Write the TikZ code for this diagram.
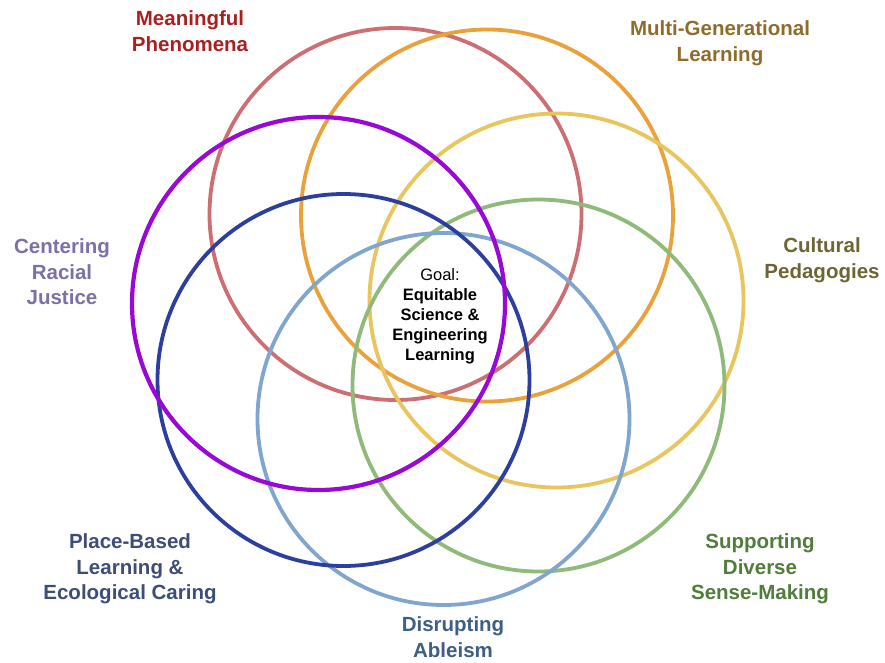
\documentclass[tikz,border=0pt]{standalone}
\usepackage{fontspec}
\setmainfont{Liberation Sans}
\definecolor{cred}{HTML}{CC6E72}
\definecolor{corange}{HTML}{E9A23B}
\definecolor{cyellow}{HTML}{E8C55E}
\definecolor{cgreen}{HTML}{8FBA7A}
\definecolor{clblue}{HTML}{80A6CF}
\definecolor{cdblue}{HTML}{2C3F9E}
\definecolor{cpurple}{HTML}{9A08D8}
\definecolor{tred}{HTML}{A82020}
\definecolor{torange}{HTML}{8E6C2C}
\definecolor{tyellow}{HTML}{6E6534}
\definecolor{tgreen}{HTML}{4F7D3B}
\definecolor{tlblue}{HTML}{3E5F84}
\definecolor{tdblue}{HTML}{3D4E76}
\definecolor{tpurple}{HTML}{7D70A6}
\tikzset{
  ring/.style={line width=3.8pt},
  lbl/.style={align=center, font=\fontsize{20.5}{25.5}\selectfont\bfseries, inner sep=0pt},
  goal/.style={align=center, font=\fontsize{16.5}{20}\selectfont, inner sep=0pt}
}
\begin{document}
\begin{tikzpicture}[x=1pt,y=-1pt]
\useasboundingbox (0,0) rectangle (885,663);
\fill[white] (0,0) rectangle (885,663);
\draw[ring, cred]    (395.5,214) circle[radius=186];
\draw[ring, corange] (487,215.5) circle[radius=186];
\draw[ring, cyellow] (556.5,300.5) circle[radius=187];
\draw[ring, cgreen]  (538.5,385.5) circle[radius=186];
\draw[ring, clblue]  (443.5,419) circle[radius=186];
\draw[ring, cdblue]  (343.5,380) circle[radius=186];
\draw[ring, cpurple, line width=4.2pt] (318.5,303.5) circle[radius=186.5];

\node[lbl, text=tred] (mp) at (190,31) {Meaningful\\Phenomena};
\node[lbl, text=torange] (mg) at (720,43) {Multi-Generational\\Learning};
\node[lbl, text=tyellow] (cp) at (822,260) {Cultural\\Pedagogies};
\node[lbl, text=tpurple] (cr) at (62,272) {Centering\\Racial\\Justice};
\node[lbl, text=tdblue] (pb) at (130,569) {Place-Based\\Learning \&\\Ecological Caring};
\node[lbl, text=tlblue] (da) at (453,637) {Disrupting\\Ableism};
\node[lbl, text=tgreen] (sd) at (760,569) {Supporting\\Diverse\\Sense-Making};
\node[goal] (g) at (440,316) {Goal:\\\textbf{Equitable}\\\textbf{Science \&}\\\textbf{Engineering}\\\textbf{Learning}};
\end{tikzpicture}
\end{document}
